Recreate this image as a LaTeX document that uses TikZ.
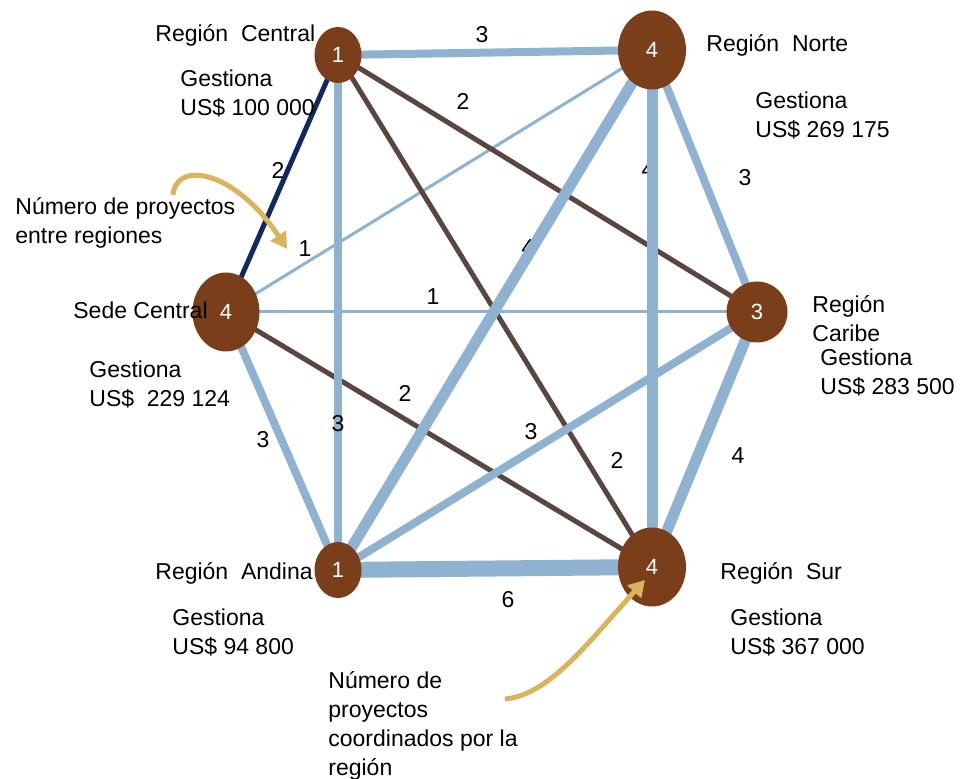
\documentclass[tikz,border=0pt]{standalone}
\usepackage{fontspec}
\setmainfont{Liberation Sans}
\usetikzlibrary{shapes.geometric, arrows.meta}

\definecolor{nodebrown}{HTML}{7A3E1B}
\definecolor{linkblue}{HTML}{8EB2CF}
\definecolor{linkbrown}{HTML}{5A4640}
\definecolor{linknavy}{HTML}{0E2A5E}
\definecolor{notegold}{HTML}{DAB45C}

\pgfdeclarelayer{background}
\pgfsetlayers{background,main}

\begin{document}
\begin{tikzpicture}[x=0.5pt, y=-0.5pt,
	region/.style={ellipse, fill=nodebrown, text=white, inner sep=0pt, font=\fontsize{11}{13}\selectfont},
	small/.style={minimum width=23.5pt, minimum height=28pt},
	big/.style={minimum width=34pt, minimum height=39.5pt},
	info/.style={anchor=west, align=left, inner sep=0pt, font=\fontsize{11.5}{14.5}\selectfont},
	weight/.style={inner sep=0pt, font=\fontsize{11.5}{14}\selectfont},
	w1/.style={linkblue, line width=1.5pt},
	w3/.style={linkblue, line width=4pt},
	w4/.style={linkblue, line width=5.5pt},
	w6/.style={linkblue, line width=8pt},
	b2/.style={linkbrown, line width=2.5pt},
	note/.style={notegold, line width=2.5pt, -{Triangle[length=8pt, width=9pt]}},
	]

	\useasboundingbox (0,0) rectangle (962,779);

	% regions
	\node[region, small] (central) at (338,55) {1};
	\node[region, big] (norte) at (652,50) {4};
	\node[region, minimum width=30.5pt, minimum height=30.5pt] (caribe) at (757,312) {3};
	\node[region, big] (sur) at (652,567) {4};
	\node[region, small] (andina) at (338,570) {1};
	\node[region, minimum width=33.5pt, minimum height=39.5pt] (sede) at (226,312) {4};

	\begin{pgfonlayer}{background}
	% number of projects per link
	\node[weight] (n-cn) at (482,35) {3};
	\node[weight] (n-cc) at (463,101) {2};
	\node[weight] (n-cs) at (278,170) {2};
	\node[weight] (n-ns) at (305,249) {1};
	\node[weight] (n-na) at (528,248) {4};
	\node[weight] (n-nu) at (648,170) {4};
	\node[weight] (n-nc) at (745,178) {3};
	\node[weight] (n-sc) at (433,297) {1};
	\node[weight] (n-su) at (405,393) {2};
	\node[weight] (n-sa) at (263,440) {3};
	\node[weight] (n-ra) at (531,432) {3};
	\node[weight] (n-cu) at (617,460) {2};
	\node[weight] (n-ru) at (738,456) {4};
	\node[weight] (n-au) at (508,600) {6};

	% links
	\draw[w1] (sede.center) -- (caribe.center);
	\draw[w1] (sede.center) -- (norte.center);
	\draw[b2] (central.center) -- (caribe.center);
	\draw[b2] (central.center) -- (sur.center);
	\draw[b2] (sede.center) -- (sur.center);
	\draw[linknavy, line width=2.5pt] (central.center) -- (sede.center);
	\draw[w3] (central.center) -- (norte.center);
	\draw[w3] (central.center) -- (andina.center);
	\draw[w3] (norte.center) -- (caribe.center);
	\draw[w3] (sede.center) -- (andina.center);
	\draw[w3] (caribe.center) -- (andina.center);
	\draw[w4] (norte.center) -- (andina.center);
	\draw[w4] (norte.center) -- (sur.center);
	\draw[w4] (caribe.center) -- (sur.center);
	\draw[w6] (andina.center) -- (sur.center);
	\end{pgfonlayer}

	\node[weight] (n-ca) at (338,424) {3};

	% names and amounts
	\node[info] (t-central) at (155,35) {Región\ \ Central};
	\node[info] (g-central) at (180,93) {Gestiona\\US\$ 100 000};
	\node[info] (t-norte) at (706,45) {Región\ \ Norte};
	\node[info] (g-norte) at (755,115) {Gestiona\\US\$ 269 175};
	\node[info] (t-sede) at (73,310) {Sede Central};
	\node[info] (g-sede) at (89,384) {Gestiona\\US\$\ \ 229 124};
	\node[info] (t-caribe) at (812,319) {Región\\Caribe};
	\node[info] (g-caribe) at (820,372) {Gestiona\\US\$ 283 500};
	\node[info] (t-andina) at (155,573) {Región\ \ Andina};
	\node[info] (g-andina) at (172,632) {Gestiona\\US\$ 94 800};
	\node[info] (t-sur) at (720,573) {Región\ \ Sur};
	\node[info] (g-sur) at (730,632) {Gestiona\\US\$ 367 000};

	% notes
	\node[info] (note-links) at (15,223) {Número de proyectos\\entre regiones};
	\node[info] (note-regions) at (328,726) {Número de\\proyectos\\coordinados por la\\región};
	\coordinate (tail-links) at (173,195);
	\coordinate (head-links) at (287,249);
	\coordinate (tail-regions) at (505,699);
	\draw[note] (tail-links) .. controls (176,160) and (235,170) .. (head-links);
	\draw[note] (tail-regions) .. controls (550,695) and (590,640) .. ([shift={(-7,13)}]sur.center);

\end{tikzpicture}
\end{document}
